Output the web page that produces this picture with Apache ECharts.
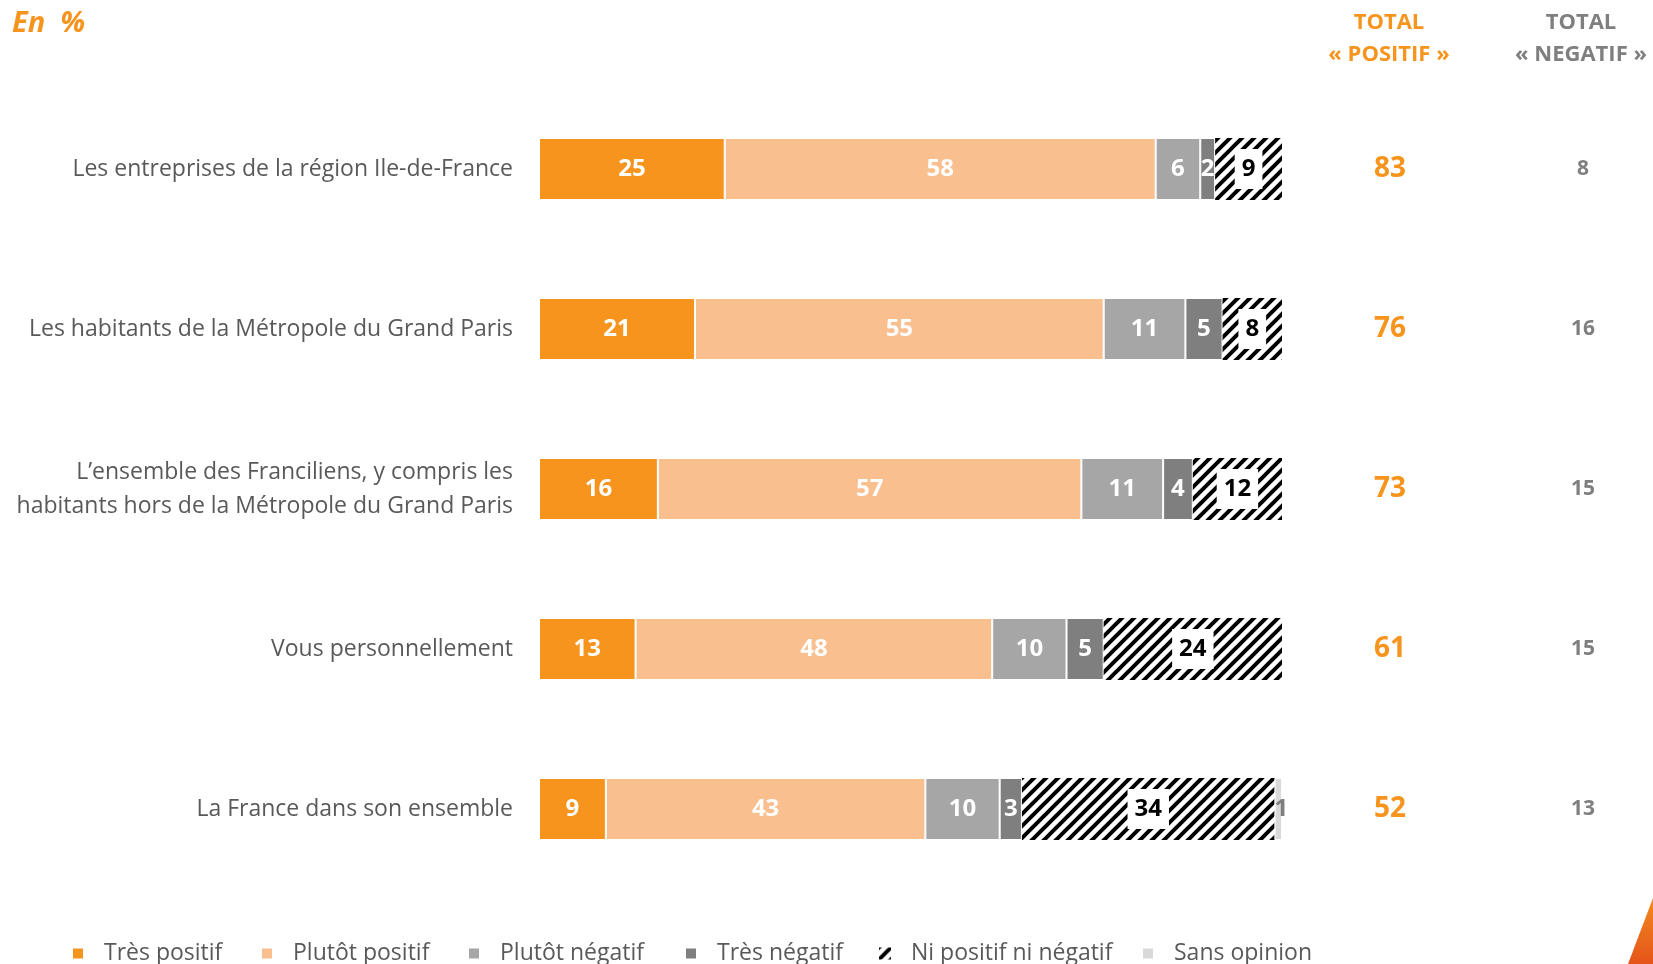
<!DOCTYPE html>
<html>
<head>
<meta charset="utf-8">
<script src="https://cdn.jsdelivr.net/npm/echarts@6/dist/echarts.min.js"></script>
<style>
html,body{margin:0;padding:0;background:#fff;}
#chart{width:1653px;height:964px;}
</style>
</head>
<body>
<div id="chart"></div>
<script>
// ---- Data ----
const categories = [
  "Les entreprises de la région Ile-de-France",
  "Les habitants de la Métropole du Grand Paris",
  "L’ensemble des Franciliens, y compris les\nhabitants hors de la Métropole du Grand Paris",
  "Vous personnellement",
  "La France dans son ensemble"
];
const seriesNames = ["Très positif", "Plutôt positif", "Plutôt négatif", "Très négatif", "Ni positif ni négatif", "Sans opinion"];
const tresPositif = [25, 21, 16, 13, 9];
const plutotPositif = [58, 55, 57, 48, 43];
const plutotNegatif = [6, 11, 11, 10, 10];
const tresNegatif = [2, 5, 4, 5, 3];
const niPosNiNeg = [9, 8, 12, 24, 34];
const sansOpinion = [0, 0, 0, 0, 1];
const totalPositif = [83, 76, 73, 61, 52];
const totalNegatif = [8, 16, 15, 15, 13];

// ---- Hatch pattern ----
const hatch = document.createElement('canvas');
hatch.width = 12; hatch.height = 12;
const hc = hatch.getContext('2d');
hc.fillStyle = '#fff'; hc.fillRect(0, 0, 12, 12);
hc.strokeStyle = '#000'; hc.lineWidth = 4; hc.lineCap = 'square';
[-12, 0, 12].forEach(k => { hc.beginPath(); hc.moveTo(k, 12); hc.lineTo(k + 12, 0); hc.stroke(); });

const colors = ['#F7941D', '#F9BF8F', '#A6A6A6', '#7F7F7F', { image: hatch, repeat: 'repeat' }, '#D9D9D9'];
const values = [tresPositif, plutotPositif, plutotNegatif, tresNegatif, niPosNiNeg, sansOpinion];
const labelStyles = [
  { color: '#fff' }, { color: '#fff' }, { color: '#fff' }, { color: '#fff' },
  { color: '#000', backgroundColor: '#fff', padding: [10, 7, 6, 7] },
  { color: '#7F7F7F', padding: [4, 0, 0, 6] }
];

const font = '"Open Sans", sans-serif';

const series = seriesNames.map((name, i) => ({
  name: name,
  type: 'bar',
  stack: 'total',
  barWidth: 62,
  yAxisIndex: 0,
  itemStyle: { color: colors[i], borderColor: '#fff', borderWidth: i === 4 ? 0 : 1 },
  label: Object.assign({
    show: true,
    position: 'inside',
    fontSize: 24,
    fontWeight: 'bold',
    fontFamily: font,
    padding: [4, 0, 0, 0],
    formatter: p => (p.value ? String(p.value) : '')
  }, labelStyles[i]),
  data: values[i].map(v => (v === 0 ? '-' : v))
}));

const legendLefts = [71, 260, 467, 684, 879, 1141];
const legends = seriesNames.map((n, i) => ({
  data: [n],
  left: legendLefts[i],
  top: 942,
  padding: 0,
  itemWidth: 12,
  itemHeight: 12,
  itemGap: 0,
  icon: 'rect',
  selectedMode: false,
  textStyle: { fontSize: 23, color: '#595959', fontFamily: font, padding: [0, 0, 0, 15] }
}));

const chart = echarts.init(document.getElementById('chart'), null, { renderer: 'canvas' });
chart.setOption({
  backgroundColor: '#fff',
  animation: false,
  legend: legends,
  grid: { left: 539, width: 743, top: 89, height: 800, containLabel: false },
  xAxis: { type: 'value', min: 0, max: 100, show: false },
  yAxis: [
    {
      type: 'category', data: categories, inverse: true,
      axisLine: { show: false }, axisTick: { show: false },
      axisLabel: { color: '#595959', fontSize: 23, fontFamily: font, margin: 26, lineHeight: 34, align: 'right', padding: [7, 0, 0, 0] }
    },
    {
      type: 'category', data: totalPositif, inverse: true, position: 'right', offset: 108,
      axisLine: { show: false }, axisTick: { show: false },
      axisLabel: { color: '#F7941D', fontSize: 28, fontWeight: 'bold', fontFamily: font, margin: 0, align: 'center', padding: [7, 0, 0, 0] }
    },
    {
      type: 'category', data: totalNegatif, inverse: true, position: 'right', offset: 301,
      axisLine: { show: false }, axisTick: { show: false },
      axisLabel: { color: '#7F7F7F', fontSize: 21, fontWeight: 'bold', fontFamily: font, margin: 0, align: 'center', padding: [4, 0, 0, 0] }
    }
  ],
  series: series,
  graphic: [
    { type: 'text', left: 12, top: 9, style: { text: 'En  %', fill: '#F7941D', font: 'italic bold 29px ' + font } },
    { type: 'text', x: 1389, y: 23, style: { text: 'TOTAL', fill: '#F7941D', font: 'bold 22px ' + font, textAlign: 'center', textVerticalAlign: 'middle' } },
    { type: 'text', x: 1389, y: 55, style: { text: '« POSITIF »', fill: '#F7941D', font: 'bold 22px ' + font, textAlign: 'center', textVerticalAlign: 'middle' } },
    { type: 'text', x: 1581, y: 23, style: { text: 'TOTAL', fill: '#7F7F7F', font: 'bold 22px ' + font, textAlign: 'center', textVerticalAlign: 'middle' } },
    { type: 'text', x: 1581, y: 55, style: { text: '« NEGATIF »', fill: '#7F7F7F', font: 'bold 22px ' + font, textAlign: 'center', textVerticalAlign: 'middle' } },
    { type: 'polygon', shape: { points: [[1653, 898], [1628, 964], [1653, 964]] },
      style: { fill: new echarts.graphic.LinearGradient(0, 0, 0, 1, [{ offset: 0, color: '#F28A1E' }, { offset: 1, color: '#E5541A' }]) } }
  ]
});
</script>
</body>
</html>
